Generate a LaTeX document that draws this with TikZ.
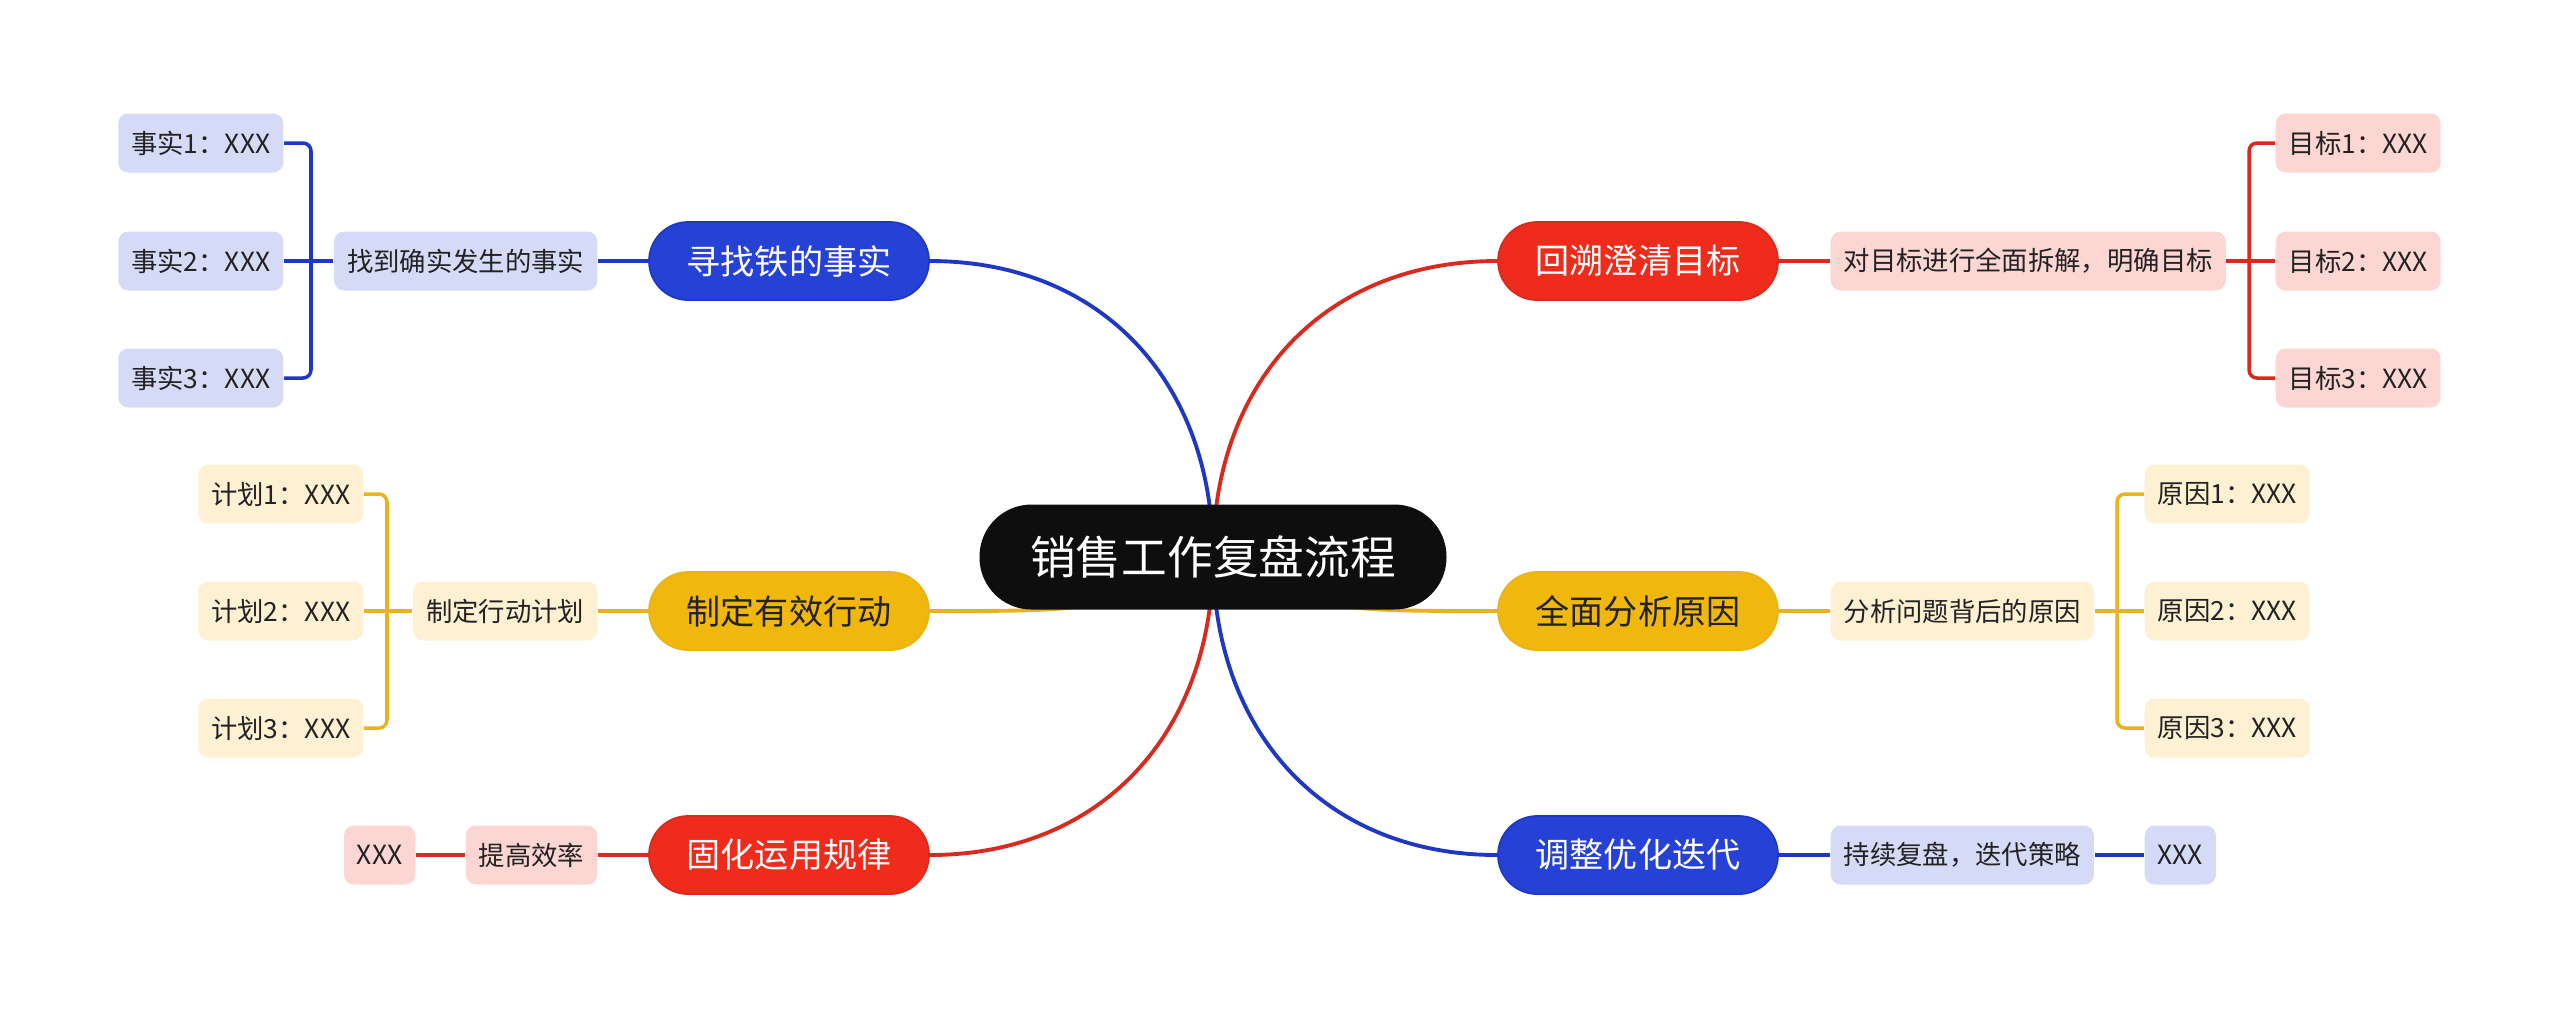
\documentclass[tikz,border=0pt]{standalone}
\usepackage{fontspec}
\newfontfamily\cjk{Noto Sans CJK SC}
\usetikzlibrary{backgrounds}
\definecolor{RootBlack}{HTML}{0E0E0E}
\definecolor{BlueMain}{HTML}{2642D6}
\definecolor{BlueLine}{HTML}{1F38C4}
\definecolor{BlueLight}{HTML}{D5DBF6}
\definecolor{RedMain}{HTML}{EF2B1B}
\definecolor{RedLine}{HTML}{D82A1E}
\definecolor{RedLight}{HTML}{FCD6D3}
\definecolor{GoldMain}{HTML}{F0B70D}
\definecolor{GoldLine}{HTML}{E9B41B}
\definecolor{GoldLight}{HTML}{FEF1D3}
\definecolor{InkDark}{HTML}{222222}
\tikzset{
  rootbox/.style={fill=RootBlack, text=white, rounded corners=5.2mm, minimum width=46.7mm, minimum height=10.5mm, font=\cjk\fontsize{13}{15}\selectfont},
  topicbox/.style={rounded corners=3.9mm, minimum width=28mm, minimum height=7.8mm, line width=0.5pt, font=\cjk\fontsize{9.7}{11}\selectfont},
  leafbox/.style={rounded corners=1mm, minimum height=5.9mm, inner xsep=1.3mm, text=InkDark, font=\cjk\fontsize{7.5}{9}\selectfont},
  branchline/.style={line width=1.1pt},
  forkline/.style={line width=1pt, rounded corners=0.8mm}
}
\begin{document}
\begin{tikzpicture}[x=0.1mm, y=-0.1mm]
  \useasboundingbox (0,0) rectangle (2560,1008);
  % root and the six topics
  \node[rootbox] (root) at (1213,557) {销售工作复盘流程};
  \node[topicbox, fill=BlueMain, draw=BlueLine, text=white] (tfact) at (789,261) {寻找铁的事实};
  \node[topicbox, fill=RedMain, draw=RedLine, text=white] (tgoal) at (1638,261) {回溯澄清目标};
  \node[topicbox, fill=GoldMain, draw=GoldLine, text=InkDark] (tplan) at (789,611) {制定有效行动};
  \node[topicbox, fill=GoldMain, draw=GoldLine, text=InkDark] (tcause) at (1638,611) {全面分析原因};
  \node[topicbox, fill=RedMain, draw=RedLine, text=white] (trule) at (789,855) {固化运用规律};
  \node[topicbox, fill=BlueMain, draw=BlueLine, text=white] (titer) at (1638,855) {调整优化迭代};
  % second level
  \node[leafbox, fill=BlueLight, anchor=east] (sfact) at (598,261) {找到确实发生的事实};
  \node[leafbox, fill=RedLight, anchor=west] (sgoal) at (1830,261) {对目标进行全面拆解，明确目标};
  \node[leafbox, fill=GoldLight, anchor=east] (splan) at (598,611) {制定行动计划};
  \node[leafbox, fill=GoldLight, anchor=west] (scause) at (1830,611) {分析问题背后的原因};
  \node[leafbox, fill=RedLight, anchor=east] (srule) at (598,855) {提高效率};
  \node[leafbox, fill=BlueLight, anchor=west] (siter) at (1830,855) {持续复盘，迭代策略};
  % leaves
  \foreach \i/\y in {1/143,2/261,3/378} {
    \node[leafbox, fill=BlueLight, anchor=east] (lfact\i) at (284,\y) {事实\i：XXX};
    \node[leafbox, fill=RedLight, anchor=west] (lgoal\i) at (2275,\y) {目标\i：XXX};
  }
  \foreach \i/\y in {1/494,2/611,3/728} {
    \node[leafbox, fill=GoldLight, anchor=east] (lplan\i) at (364,\y) {计划\i：XXX};
    \node[leafbox, fill=GoldLight, anchor=west] (lcause\i) at (2144,\y) {原因\i：XXX};
  }
  \node[leafbox, fill=RedLight, anchor=east] (lrule) at (416,855) {XXX};
  \node[leafbox, fill=BlueLight, anchor=west] (liter) at (2144,855) {XXX};
  % connectors behind the boxes
  \begin{scope}[on background layer]
    \draw[branchline, BlueLine] (tfact.east) .. controls (1100,261) and (1213,380) .. (root.center);
    \draw[branchline, RedLine] (tgoal.west) .. controls (1326,261) and (1213,380) .. (root.center);
    \draw[branchline, GoldLine] (tplan.east) .. controls (1100,611) .. (root.center);
    \draw[branchline, GoldLine] (tcause.west) .. controls (1326,611) .. (root.center);
    \draw[branchline, RedLine] (trule.east) .. controls (1100,855) and (1213,734) .. (root.center);
    \draw[branchline, BlueLine] (titer.west) .. controls (1326,855) and (1213,734) .. (root.center);
  \end{scope}
  \draw[branchline, BlueLine] (tfact.west) -- (sfact.east);
  \draw[branchline, RedLine] (tgoal.east) -- (sgoal.west);
  \draw[branchline, GoldLine] (tplan.west) -- (splan.east);
  \draw[branchline, GoldLine] (tcause.east) -- (scause.west);
  \draw[branchline, RedLine] (trule.west) -- (srule.east);
  \draw[branchline, BlueLine] (titer.east) -- (siter.west);
  \draw[branchline, RedLine] (srule.west) -- (lrule.east);
  \draw[branchline, BlueLine] (siter.east) -- (liter.west);
  % forks to the leaves
  \draw[forkline, BlueLine] (sfact.west) -- (lfact2.east);
  \draw[forkline, BlueLine] (lfact1.east) -- ++(27,0) |- (lfact3.east);
  \draw[forkline, RedLine] (sgoal.east) -- (lgoal2.west);
  \draw[forkline, RedLine] (lgoal1.west) -- ++(-26,0) |- (lgoal3.west);
  \draw[forkline, GoldLine] (splan.west) -- (lplan2.east);
  \draw[forkline, GoldLine] (lplan1.east) -- ++(23,0) |- (lplan3.east);
  \draw[forkline, GoldLine] (scause.east) -- (lcause2.west);
  \draw[forkline, GoldLine] (lcause1.west) -- ++(-27,0) |- (lcause3.west);
\end{tikzpicture}
\end{document}
